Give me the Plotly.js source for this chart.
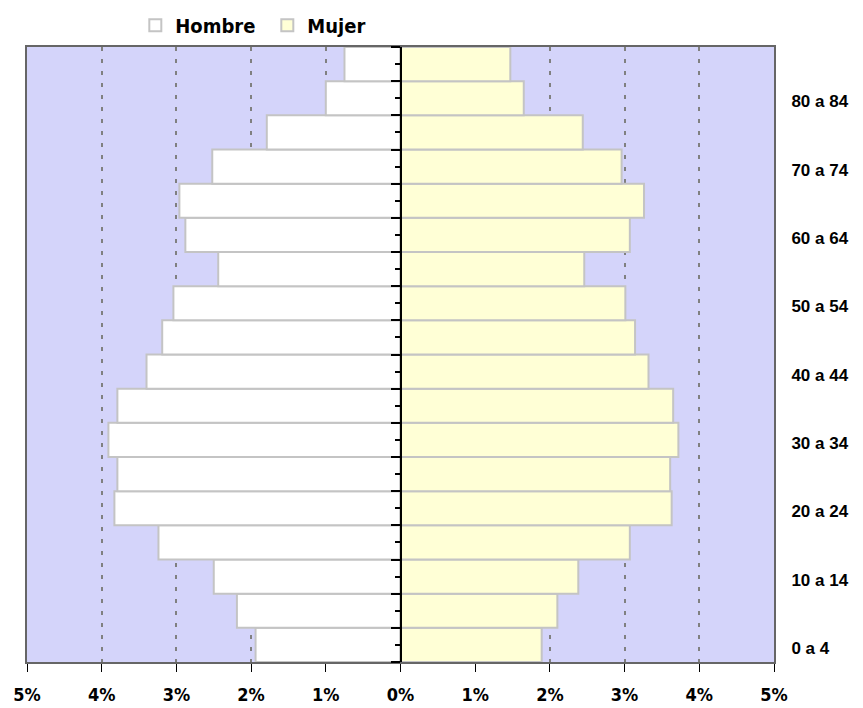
<!DOCTYPE html>
<html>
<head>
<meta charset="utf-8">
<script src="https://cdn.plot.ly/plotly-3.0.1.min.js"></script>
<style>html,body{margin:0;padding:0;background:#fff}#chart{width:863px;height:708px}</style>
</head>
<body>
<div id="chart"></div>
<script>
const ageGroups = ["0 a 4","5 a 9","10 a 14","15 a 19","20 a 24","25 a 29","30 a 34","35 a 39","40 a 44","45 a 49","50 a 54","55 a 59","60 a 64","65 a 69","70 a 74","75 a 79","80 a 84","85 y más"];
const hombre = [1.94,2.19,2.50,3.24,3.83,3.79,3.91,3.79,3.40,3.19,3.04,2.44,2.88,2.96,2.52,1.79,1.00,0.75];
const mujer  = [1.89,2.10,2.38,3.07,3.63,3.61,3.72,3.65,3.32,3.14,3.01,2.46,3.07,3.26,2.96,2.44,1.65,1.47];
const xTickVals = [-5,-4,-3,-2,-1,0,1,2,3,4,5];
const xTickText = ["5%","4%","3%","2%","1%","0%","1%","2%","3%","4%","5%"];
const yLabelVals = ["0 a 4","10 a 14","20 a 24","30 a 34","40 a 44","50 a 54","60 a 64","70 a 74","80 a 84"];

const narrow = '"Liberation Sans Narrow", "Arial Narrow", "DejaVu Sans Condensed", "Liberation Sans", Arial, sans-serif';
const sans = '"Liberation Sans", Arial, sans-serif';

const traces = [
  {type:'bar', orientation:'h', name:'Hombre', y:ageGroups, x:hombre.map(v=>-v),
   marker:{color:'#ffffff', line:{color:'#c4c4c4', width:2}}, hoverinfo:'skip'},
  {type:'bar', orientation:'h', name:'Mujer', y:ageGroups, x:mujer,
   marker:{color:'#ffffd6', line:{color:'#c4c4c4', width:2}}, hoverinfo:'skip'},
  {type:'scatter', mode:'markers', x:[], y:[], yaxis:'y2', showlegend:false, hoverinfo:'skip'}
];

const layout = {
  width:863, height:708,
  margin:{l:27, r:89, t:47, b:46, pad:0, autoexpand:false},
  paper_bgcolor:'#ffffff',
  plot_bgcolor:'#d4d4fa',
  barmode:'relative',
  bargap:0,
  showlegend:true,
  legend:{orientation:'h', x:0.145, xanchor:'left', y:1.067, yanchor:'top',
          font:{family:narrow, size:20, color:'#000', weight:'bold'}, bgcolor:'rgba(0,0,0,0)',
          entrywidth:87, itemsizing:'constant'},
  xaxis:{range:[-5,5], tickvals:xTickVals, ticktext:xTickText,
         ticks:'outside', ticklen:8, tickwidth:1, tickcolor:'#000',
         ticklabelstandoff:7,
         showgrid:true, gridcolor:'#808080', gridwidth:2, griddash:'4px,8px',
         zeroline:false, showline:true, linecolor:'#666', linewidth:2, mirror:true,
         tickfont:{family:narrow, size:18, color:'#000', weight:'bold'}, fixedrange:true},
  yaxis:{type:'category', categoryorder:'array', categoryarray:ageGroups,
         range:[-0.5,17.5], side:'right', tickvals:yLabelVals, ticks:'',
         ticklabelstandoff:12, ticklabelshift:3,
         showgrid:false, zeroline:false, showline:true, linecolor:'#666', linewidth:2, mirror:true,
         tickfont:{family:sans, size:17, color:'#000', weight:'bold'}, fixedrange:true},
  yaxis2:{overlaying:'y', anchor:'free', position:0.5, side:'left',
          range:[-0.5,17.5], tick0:-0.5, dtick:1, ticks:'outside', ticklen:9, tickwidth:2, tickcolor:'#000',
          showticklabels:false, showgrid:false, zeroline:false,
          showline:true, linecolor:'#000', linewidth:2,
          minor:{dtick:0.5, tick0:-0.5, ticks:'outside', ticklen:5, tickwidth:2, tickcolor:'#000', showgrid:false},
          fixedrange:true}
};

Plotly.newPlot('chart', traces, layout, {displayModeBar:false, staticPlot:true});
</script>
</body>
</html>
